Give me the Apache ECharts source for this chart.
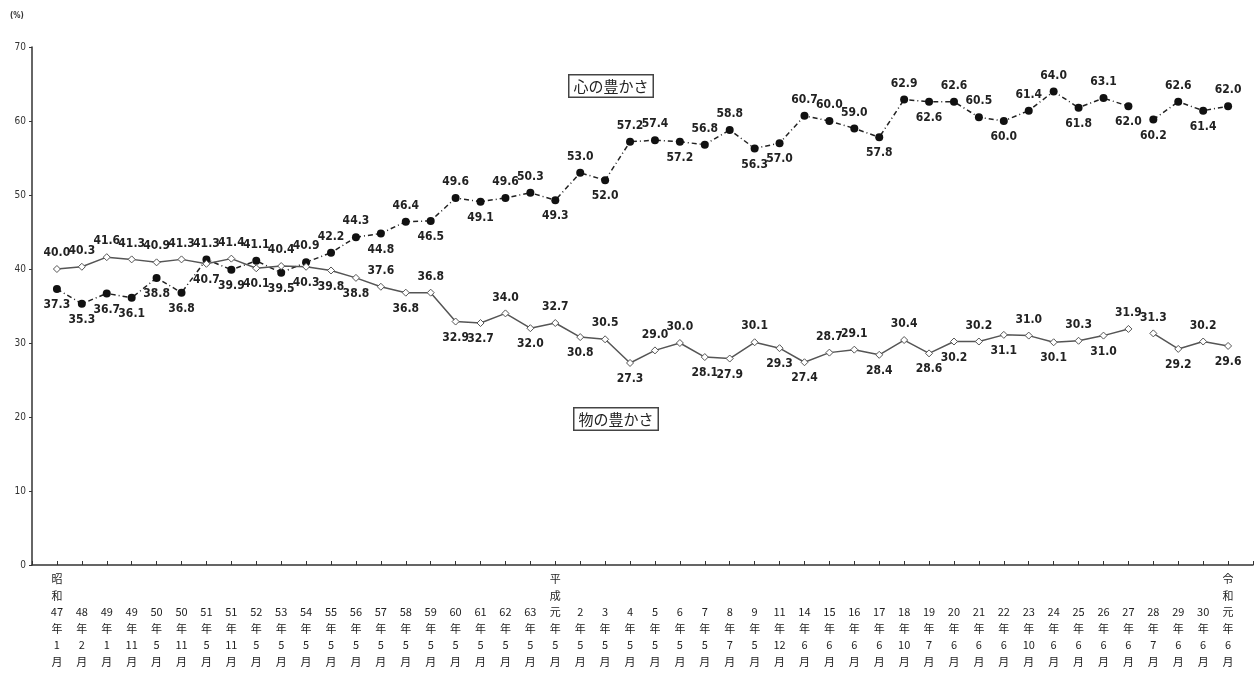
<!DOCTYPE html>
<html>
<head>
<meta charset="utf-8">
<script src="https://cdn.jsdelivr.net/npm/echarts@6/dist/echarts.min.js"></script>
<style>
  html, body { margin: 0; padding: 0; background: #fff; }
  #chart { width: 1256px; height: 675px; }
</style>
</head>
<body>
<div id="chart"></div>
<script>
// survey dates (x axis)
var categories = [
    '昭和47年1月', '48年2月', '49年1月', '49年11月', '50年5月', '50年11月',
    '51年5月', '51年11月', '52年5月', '53年5月', '54年5月', '55年5月',
    '56年5月', '57年5月', '58年5月', '59年5月', '60年5月', '61年5月',
    '62年5月', '63年5月', '平成元年5月', '2年5月', '3年5月', '4年5月',
    '5年5月', '6年5月', '7年5月', '8年7月', '9年5月', '11年12月',
    '14年6月', '15年6月', '16年6月', '17年6月', '18年10月', '19年7月',
    '20年6月', '21年6月', '22年6月', '23年10月', '24年6月', '25年6月',
    '26年6月', '27年6月', '28年7月', '29年6月', '30年6月', '令和元年6月'
];

// 心の豊かさ (%)
var kokoroValues = [
    37.3, 35.3, 36.7, 36.1, 38.8, 36.8, 41.3, 39.9, 41.1, 39.5, 40.9, 42.2,
    44.3, 44.8, 46.4, 46.5, 49.6, 49.1, 49.6, 50.3, 49.3, 53.0, 52.0, 57.2,
    57.4, 57.2, 56.8, 58.8, 56.3, 57.0, 60.7, 60.0, 59.0, 57.8, 62.9, 62.6,
    62.6, 60.5, 60.0, 61.4, 64.0, 61.8, 63.1, 62.0, 60.2, 62.6, 61.4, 62.0
];

// 物の豊かさ (%)
var monoValues = [
    40.0, 40.3, 41.6, 41.3, 40.9, 41.3, 40.7, 41.4, 40.1, 40.4, 40.3, 39.8,
    38.8, 37.6, 36.8, 36.8, 32.9, 32.7, 34.0, 32.0, 32.7, 30.8, 30.5, 27.3,
    29.0, 30.0, 28.1, 27.9, 30.1, 29.3, 27.4, 28.7, 29.1, 28.4, 30.4, 28.6,
    30.2, 30.2, 31.1, 31.0, 30.1, 30.3, 31.0, 31.9, 31.3, 29.2, 30.2, 29.6
];

// the line is broken between 27年 and 28年 (survey method change)
var breakIndex = 44;

// label placement per point (t = above, b = below)
var kokoroLabelPos = 'bbbbbbtbtbtttbtbtbttbtbttbttbbtttbtbttbttbtbbtbt';
var monoLabelPos   = 'ttttttbtbtbbbtbtbbtbtbtbttbbtbbttbtbbtbtbtbttbtb';

function tickText(s) {
    var m = s.match(/^(昭和|平成|令和)?(\d+|元)年(\d+)月$/);
    var lines = [];
    if (m[1]) {
        lines.push(m[1].charAt(0), m[1].charAt(1));
    } else {
        lines.push('', '');
    }
    lines.push(m[2], '年', m[3], '月');
    return lines.join('\n');
}

function buildData(values, posStr, from, to) {
    var out = [];
    for (var i = from; i < to; i++) {
        out.push({
            value: [i, values[i]],
            label: { position: posStr.charAt(i) === 't' ? 'top' : 'bottom' }
        });
    }
    return out;
}

var labelStyle = {
    show: true,
    distance: 6,
    fontFamily: 'DejaVu Sans Condensed',
    fontWeight: 'bold',
    fontSize: 12,
    color: '#222',
    formatter: function (p) { return p.value[1].toFixed(1); }
};

var kokoroStyle = {
    type: 'line',
    symbol: 'circle',
    symbolSize: 8,
    itemStyle: { color: '#111' },
    lineStyle: { color: '#222', width: 1.5, type: [5, 3, 1, 3] },
    label: labelStyle,
    animation: false
};

var monoStyle = {
    type: 'line',
    symbol: 'diamond',
    symbolSize: 7,
    itemStyle: { color: '#fff', borderColor: '#555', borderWidth: 1 },
    lineStyle: { color: '#555', width: 1.5 },
    label: labelStyle,
    animation: false
};

var n = categories.length;
var series = [
    Object.assign({ name: '心の豊かさ', data: buildData(kokoroValues, kokoroLabelPos, 0, breakIndex) }, kokoroStyle),
    Object.assign({ name: '心の豊かさ', data: buildData(kokoroValues, kokoroLabelPos, breakIndex, n) }, kokoroStyle),
    Object.assign({ name: '物の豊かさ', data: buildData(monoValues, monoLabelPos, 0, breakIndex) }, monoStyle),
    Object.assign({ name: '物の豊かさ', data: buildData(monoValues, monoLabelPos, breakIndex, n) }, monoStyle)
];

var myChart = echarts.init(document.getElementById('chart'));

var option = {
    backgroundColor: '#fff',
    animation: false,
    grid: { left: 32, right: 3, top: 47, bottom: 110 },
    xAxis: {
        type: 'value',
        min: -1,
        max: n,
        interval: 1,
        splitLine: { show: false },
        axisLine: { lineStyle: { color: '#333', width: 1.5 } },
        axisTick: { inside: true, length: 4, lineStyle: { color: '#333' } },
        axisLabel: {
            margin: 6,
            fontFamily: 'Noto Sans CJK JP',
            fontSize: 11,
            lineHeight: 16.5,
            color: '#222',
            showMinLabel: true,
            showMaxLabel: true,
            formatter: function (v) {
                var s = categories[v];
                return s ? tickText(s) : '';
            }
        }
    },
    yAxis: {
        type: 'value',
        min: 0,
        max: 70,
        interval: 10,
        splitLine: { show: false },
        axisLine: { show: true, onZero: false, lineStyle: { color: '#333', width: 1.5 } },
        axisTick: { show: true, length: 3, lineStyle: { color: '#333' } },
        axisLabel: {
            margin: 6,
            fontFamily: 'DejaVu Sans Condensed',
            fontSize: 10,
            color: '#333'
        }
    },
    graphic: [
        {
            type: 'text', left: 10, top: 12,
            style: { text: '(%)', font: 'bold 8px "DejaVu Sans Condensed"', fill: '#333' }
        },
        {
            type: 'text', left: 568, top: 74,
            style: {
                text: '心の豊かさ', font: '15px "Noto Sans CJK JP"', fill: '#222',
                backgroundColor: '#fff', borderColor: '#444', borderWidth: 1.5,
                padding: [3, 4, 3, 4]
            }
        },
        {
            type: 'text', left: 573, top: 407,
            style: {
                text: '物の豊かさ', font: '15px "Noto Sans CJK JP"', fill: '#222',
                backgroundColor: '#fff', borderColor: '#444', borderWidth: 1.5,
                padding: [3, 4, 3, 4]
            }
        }
    ],
    series: series
};

myChart.setOption(option);
</script>
</body>
</html>
